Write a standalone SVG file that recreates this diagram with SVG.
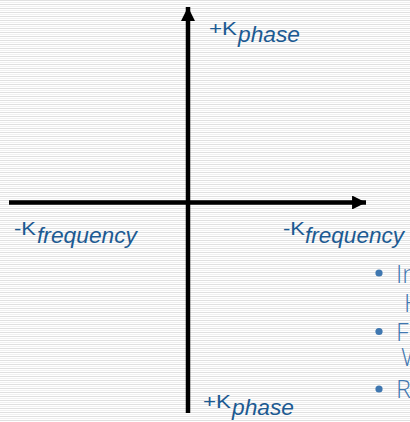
<svg xmlns="http://www.w3.org/2000/svg" width="410" height="422" viewBox="0 0 410 422">
  <defs>
    <pattern id="stripes" x="0" y="0" width="8" height="4" patternUnits="userSpaceOnUse">
      <rect width="8" height="4" fill="#ffffff"/>
      <rect y="0" width="8" height="1" fill="#e0e0e0"/>
      <rect y="2" width="8" height="1" fill="#f0f0f0"/>
    </pattern>
    <marker id="arrow" viewBox="0 0 10 10" refX="10" refY="5" markerWidth="3.2" markerHeight="3.1" orient="auto" markerUnits="strokeWidth">
      <path d="M0,0 L10,5 L0,10 Z" fill="#000"/>
    </marker>
  </defs>
  <style>
    .axis { stroke: #000; stroke-width: 4.5; fill: none; }
    .lbl { font-family: "Liberation Sans", Arial, sans-serif; fill: #1c5a92; font-size: 18.5px; }
    .sub { font-family: "Liberation Sans", Arial, sans-serif; fill: #1c5a92; font-style: italic; font-size: 22.5px; }
    .bul { font-family: "Open Sans", "Liberation Sans", sans-serif; font-weight: 300; fill: #3f77b0; font-size: 25px; }
  </style>
  <rect width="410" height="422" fill="url(#stripes)"/>
  <g id="connectors">
    <line class="axis" x1="188" y1="413" x2="188" y2="7" marker-end="url(#arrow)"/>
    <line class="axis" x1="9" y1="202.5" x2="366" y2="202.5" marker-end="url(#arrow)"/>
  </g>
  <g id="label-top">
    <text class="lbl" x="209" y="35" textLength="28" lengthAdjust="spacingAndGlyphs">+K</text>
    <text class="sub" x="238" y="42" textLength="62" lengthAdjust="spacingAndGlyphs">phase</text>
  </g>
  <g id="label-left">
    <text class="lbl" x="14" y="235" textLength="22" lengthAdjust="spacingAndGlyphs">-K</text>
    <text class="sub" x="37" y="243" textLength="100" lengthAdjust="spacingAndGlyphs">frequency</text>
  </g>
  <g id="label-right">
    <text class="lbl" x="283" y="235" textLength="22" lengthAdjust="spacingAndGlyphs">-K</text>
    <text class="sub" x="305" y="243" textLength="99" lengthAdjust="spacingAndGlyphs">frequency</text>
  </g>
  <g id="label-bottom">
    <text class="lbl" x="203" y="407.5" textLength="28" lengthAdjust="spacingAndGlyphs">+K</text>
    <text class="sub" x="232" y="415" textLength="62" lengthAdjust="spacingAndGlyphs">phase</text>
  </g>
  <g id="bullets">
    <circle cx="379" cy="273" r="3.6" fill="#3f77b0"/>
    <text class="bul" x="396" y="283">In</text>
    <text class="bul" x="404" y="312">H</text>
    <circle cx="379" cy="331.5" r="3.6" fill="#3f77b0"/>
    <text class="bul" x="396" y="341">F</text>
    <text class="bul" x="401" y="366">W</text>
    <circle cx="379" cy="389" r="3.6" fill="#3f77b0"/>
    <text class="bul" x="396" y="398">R</text>
  </g>
</svg>
